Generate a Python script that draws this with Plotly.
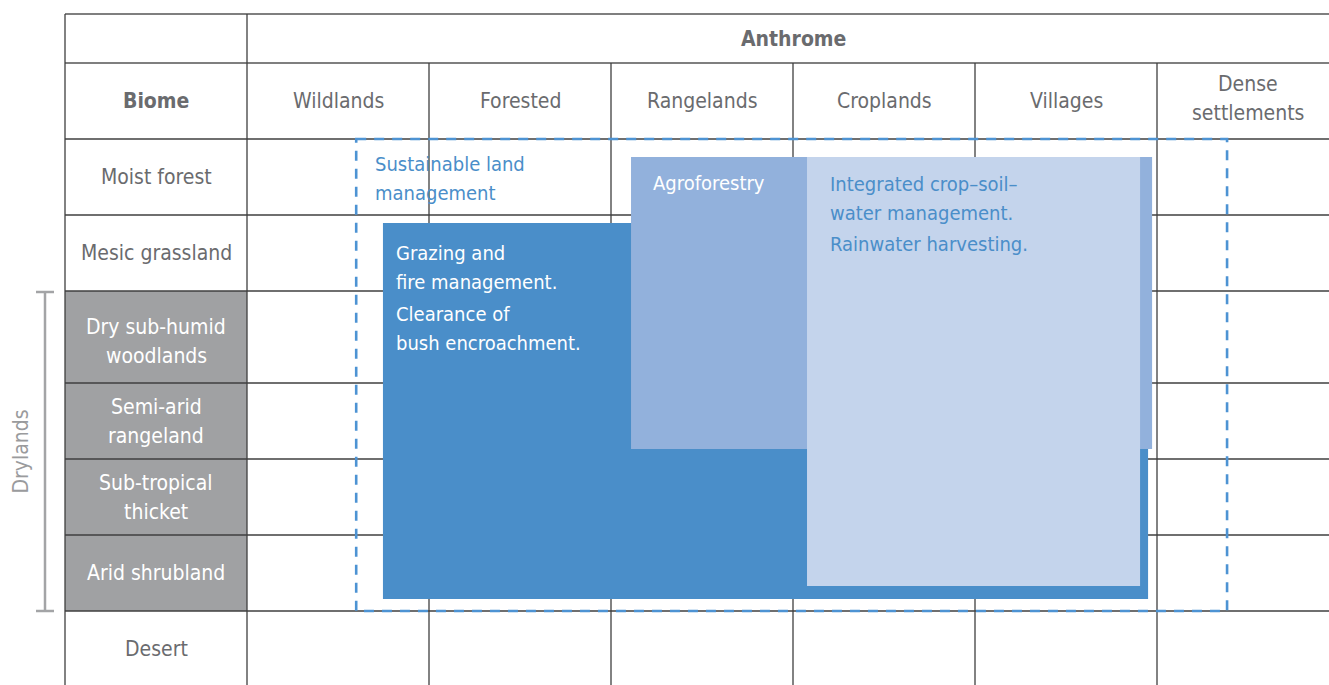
import math
import plotly.graph_objects as go

# ---------------- data ----------------
anthromes = ["Wildlands", "Forested", "Rangelands", "Croplands", "Villages", "Dense<br>settlements"]
biomes = ["Moist forest", "Mesic grassland", "Dry sub-humid<br>woodlands", "Semi-arid<br>rangeland",
          "Sub-tropical<br>thicket", "Arid shrubland", "Desert"]
is_dryland = [False, False, True, True, True, True, False]

# intervention extents: anthrome span (column units, 0 = left edge of Wildlands)
# and biome span (row units, 0 = top of Moist forest)
slm_anthrome = [0.60, 5.385]
slm_biome = [0.0, 6.0]
grazing_anthrome = [0.747, 4.951]
grazing_biome = [1.105, 5.842]
agro_anthrome = [2.110, 4.973]
agro_biome = [0.237, 3.868]
icsw_anthrome = [3.077, 4.907]
icsw_biome = [0.237, 5.671]

slm_label = "Sustainable land<br>management"
grazing_labels = ["Grazing and<br>fire management.", "Clearance of<br>bush encroachment."]
agro_label = "Agroforestry"
icsw_labels = ["Integrated crop–soil–<br>water management.", "Rainwater harvesting."]

# ---------------- layout constants ----------------
W, H = 1329, 685
TABLE_LEFT = 65
BIOME_W = 182
COL_W = 182
TOP = 14
HEAD1_H = 49
HEAD2_H = 76
row_heights = [76, 76, 92, 76, 76, 76, 76]

ANTH_LEFT = TABLE_LEFT + BIOME_W
HEAD2_TOP = TOP + HEAD1_H
BODY_TOP = HEAD2_TOP + HEAD2_H

FONT = "Liberation Sans Narrow, Arial Narrow, DejaVu Sans Condensed, sans-serif"
GRAY_TXT = "#6a6b6e"
LINE = "#3f3f3f"
DARK_BLUE = "#4a8ec9"
MID_BLUE = "#92b1dc"
LIGHT_BLUE = "#c4d4ec"
DRY_FILL = "#a0a1a3"
FS = 21      # table labels
FS_IN = 20   # intervention labels
LS = 29      # line spacing


def col_x(u):
    return ANTH_LEFT + COL_W * u


def row_y(v):
    i = min(int(math.floor(v)), len(row_heights) - 1)
    return BODY_TOP + sum(row_heights[:i]) + (v - i) * row_heights[i]


shapes = []
annotations = []

# dryland biome cells
for r, dry in enumerate(is_dryland):
    if dry:
        shapes.append(dict(type="rect", x0=TABLE_LEFT, x1=ANTH_LEFT, y0=row_y(r), y1=row_y(r + 1),
                           fillcolor=DRY_FILL, line=dict(width=0), layer="above"))


def hline(y, x0, x1, color=LINE, w=1.3):
    shapes.append(dict(type="line", x0=x0, x1=x1, y0=y, y1=y, line=dict(color=color, width=w), layer="above"))


def vline(x, y0, y1, color=LINE, w=1.3):
    shapes.append(dict(type="line", x0=x, x1=x, y0=y0, y1=y1, line=dict(color=color, width=w), layer="above"))


hline(TOP, TABLE_LEFT, W, color="#555555")
hline(HEAD2_TOP, TABLE_LEFT, W, color="#555555")
for r in range(len(biomes)):
    hline(row_y(r), TABLE_LEFT, W)
vline(TABLE_LEFT, TOP, H)
vline(ANTH_LEFT, TOP, H)
for c in range(1, len(anthromes)):
    vline(col_x(c), HEAD2_TOP, H)

# intervention boxes
for xs, ys, col in [(grazing_anthrome, grazing_biome, DARK_BLUE),
                    (agro_anthrome, agro_biome, MID_BLUE),
                    (icsw_anthrome, icsw_biome, LIGHT_BLUE)]:
    shapes.append(dict(type="rect", x0=col_x(xs[0]), x1=col_x(xs[1]), y0=row_y(ys[0]), y1=row_y(ys[1]),
                       fillcolor=col, line=dict(width=0), layer="above"))

# sustainable land management dashed outline
shapes.append(dict(type="rect", x0=col_x(slm_anthrome[0]), x1=col_x(slm_anthrome[1]),
                   y0=row_y(slm_biome[0]), y1=row_y(slm_biome[1]),
                   line=dict(color="#4d93d3", width=2.6, dash="10px,8px"), layer="above"))

# drylands bracket
dry_rows = [i for i, d in enumerate(is_dryland) if d]
by0, by1 = row_y(dry_rows[0]) + 1, row_y(dry_rows[-1] + 1)
BR = "#a3a4a6"
shapes.append(dict(type="line", x0=45, x1=45, y0=by0, y1=by1, line=dict(color=BR, width=2.5), layer="above"))
shapes.append(dict(type="line", x0=36, x1=54, y0=by0, y1=by0, line=dict(color=BR, width=2.5), layer="above"))
shapes.append(dict(type="line", x0=36, x1=54, y0=by1, y1=by1, line=dict(color=BR, width=2.5), layer="above"))


def ann(text, x, y, color=GRAY_TXT, xanchor="center", size=FS, angle=0):
    annotations.append(dict(text=text, x=x, y=y, xref="x", yref="y", showarrow=False,
                            xanchor=xanchor, yanchor="middle", textangle=angle,
                            font=dict(family=FONT, size=size, color=color)))


def multi(text, x, y_first=None, y_center=None, **kw):
    lines = text.split("<br>")
    n = len(lines)
    if y_first is None:
        y_first = y_center - (n - 1) * LS / 2
    bold = kw.pop("bold", False)
    for i, ln in enumerate(lines):
        ann(f"<b>{ln}</b>" if bold else ln, x, y_first + i * LS, **kw)


# headers
multi("Anthrome", (ANTH_LEFT + col_x(len(anthromes))) / 2, y_center=TOP + HEAD1_H / 2, bold=True)
multi("Biome", TABLE_LEFT + BIOME_W / 2, y_center=HEAD2_TOP + HEAD2_H / 2, bold=True)
for c, name in enumerate(anthromes):
    off = -2.5 if "<br>" in name else 0
    multi(name, col_x(c + 0.5), y_center=HEAD2_TOP + HEAD2_H / 2 + off)
for r, name in enumerate(biomes):
    yc = row_y(r) + row_heights[r] / 2
    if r == 2:
        yc += 4
    multi(name, TABLE_LEFT + BIOME_W / 2, y_center=yc,
          color="white" if is_dryland[r] else GRAY_TXT)
ann("Drylands", 20, (by0 + by1) / 2, color="#9a9b9d", angle=-90)

# intervention labels
multi(slm_label, col_x(slm_anthrome[0]) + 17, y_first=row_y(slm_biome[0]) + 25,
      color=DARK_BLUE, xanchor="left", size=FS_IN)
multi(grazing_labels[0], col_x(grazing_anthrome[0]) + 11, y_first=row_y(grazing_biome[0]) + 30,
      color="white", xanchor="left", size=FS_IN)
multi(grazing_labels[1], col_x(grazing_anthrome[0]) + 11, y_first=row_y(grazing_biome[0]) + 91,
      color="white", xanchor="left", size=FS_IN)
multi(agro_label, col_x(agro_anthrome[0]) + 20, y_first=row_y(agro_biome[0]) + 26,
      color="white", xanchor="left", size=FS_IN)
multi(icsw_labels[0], col_x(icsw_anthrome[0]) + 21, y_first=row_y(icsw_biome[0]) + 27,
      color=DARK_BLUE, xanchor="left", size=FS_IN)
multi(icsw_labels[1], col_x(icsw_anthrome[0]) + 21, y_first=row_y(icsw_biome[0]) + 87,
      color=DARK_BLUE, xanchor="left", size=FS_IN)

fig = go.Figure()
fig.add_trace(go.Scatter(x=[0, W], y=[0, H], mode="markers", marker=dict(opacity=0),
                         hoverinfo="skip", showlegend=False))
fig.update_layout(
    width=W, height=H, margin=dict(l=0, r=0, t=0, b=0),
    paper_bgcolor="white", plot_bgcolor="white",
    xaxis=dict(range=[0, W], visible=False, fixedrange=True),
    yaxis=dict(range=[H, 0], visible=False, fixedrange=True),
    shapes=shapes, annotations=annotations, showlegend=False,
)
fig.write_html("out.html", config={"displayModeBar": False},
               post_script="document.body.style.margin='0';")
